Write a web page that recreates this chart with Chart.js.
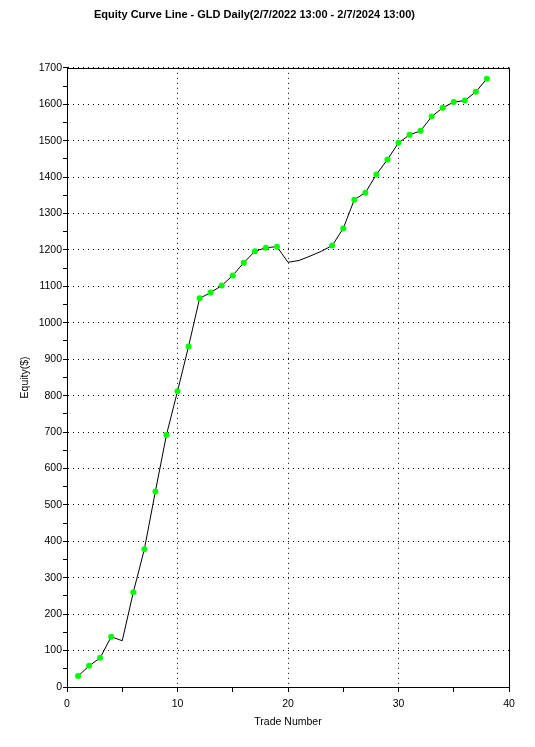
<!DOCTYPE html>
<html>
<head>
<meta charset="utf-8">
<script src="https://cdn.jsdelivr.net/npm/chart.js@4/dist/chart.umd.min.js"></script>
<style>
  body { margin: 0; background: #fff; }
  #grafico { display: block; }
</style>
</head>
<body>
<canvas id="grafico" width="535" height="747"></canvas>
<script>
// trade number and equity
var trades = [1, 2, 3, 4, 5, 6, 7, 8, 9, 10, 11, 12, 13, 14, 15, 16, 17, 18, 19,
  20, 21, 22, 23, 24, 25, 26, 27, 28, 29, 30, 31, 32, 33, 34, 35, 36, 37, 38];
var equity = [30, 58, 80, 138, 127, 260, 378, 537, 692, 812, 935, 1067, 1083, 1102,
  1130, 1165, 1196, 1206, 1209, 1166, 1171, 1183, 1196, 1212, 1259, 1338, 1357,
  1407, 1448, 1494, 1516, 1527, 1566, 1590, 1606, 1610, 1634, 1670];
// trades drawn without a green dot
var semMarcador = [5, 20, 21, 22, 23];

var titulo = "Equity Curve Line - GLD Daily(2/7/2022 13:00 - 2/7/2024 13:00)";
var tituloX = "Trade Number";
var tituloY = "Equity($)";

var fonte = "'Liberation Sans', Arial, sans-serif";

const moldura = {
  id: "moldura",
  beforeDatasetsDraw(chart) {
    const a = chart.chartArea;
    const ctx = chart.ctx;
    ctx.save();
    ctx.strokeStyle = "#000";
    ctx.lineWidth = 1;
    ctx.strokeRect(Math.round(a.left) + 0.5, Math.round(a.top) + 0.5,
      Math.round(a.right - a.left), Math.round(a.bottom - a.top));
    ctx.restore();
  },
};

function montaGrafico() {
  const ctx = document.getElementById("grafico");
  const pontos = trades.map((t, i) => ({ x: t, y: equity[i] }));
  const raios = trades.map((t) => (semMarcador.includes(t) ? 0 : 3));

  const data = {
    datasets: [
      {
        label: "Equity",
        data: pontos,
        borderColor: "#000",
        borderWidth: 1,
        backgroundColor: "#00ff00",
        pointBackgroundColor: "#00ff00",
        pointBorderColor: "#00ff00",
        pointBorderWidth: 0,
        pointRadius: raios,
        tension: 0,
        fill: false,
      },
    ],
  };

  const config = {
    type: "line",
    data: data,
    plugins: [moldura],
    options: {
      responsive: false,
      animation: false,
      devicePixelRatio: 1,
      layout: { padding: { left: 0, right: 26, top: 0, bottom: 0 } },
      plugins: {
        legend: { display: false },
        tooltip: { enabled: false },
        title: {
          display: true,
          text: titulo,
          color: "#000",
          font: { family: fonte, size: 11, weight: "bold" },
          padding: { top: 8, bottom: 46.6 },
        },
      },
      scales: {
        x: {
          type: "linear",
          min: 0,
          max: 40,
          afterFit: (s) => { s.height = 60; },
          ticks: {
            stepSize: 5,
            color: "#000",
            padding: 6,
            maxRotation: 0,
            font: { family: fonte, size: 10.5 },
            callback: (v) => (v % 10 === 0 ? v : ""),
          },
          grid: {
            color: (c) => (c.tick && c.tick.value % 10 === 0 ? "#000" : "rgba(0,0,0,0)"),
            tickColor: "#000",
            tickLength: 5,
            lineWidth: 1,
          },
          border: { display: true, color: "#000", dash: [1, 4] },
          title: {
            display: true,
            text: tituloX,
            color: "#000",
            font: { family: fonte, size: 10.5 },
            padding: { top: 0, bottom: 19 },
          },
        },
        y: {
          min: 0,
          max: 1700,
          afterFit: (s) => { s.width = 67; },
          ticks: {
            stepSize: 50,
            color: "#000",
            padding: 1,
            font: { family: fonte, size: 10.5 },
            callback: (v) => (v % 100 === 0 ? v : ""),
          },
          grid: {
            color: (c) => (c.tick && c.tick.value % 100 === 0 ? "#000" : "rgba(0,0,0,0)"),
            tickColor: "#000",
            tickLength: 4,
            lineWidth: 1,
          },
          border: { display: true, color: "#000", dash: [1, 4] },
          title: {
            display: true,
            text: tituloY,
            color: "#000",
            font: { family: fonte, size: 10.5 },
            padding: { top: 19, bottom: 0 },
          },
        },
      },
    },
  };

  new Chart(ctx, config);
}

montaGrafico();
</script>
</body>
</html>
